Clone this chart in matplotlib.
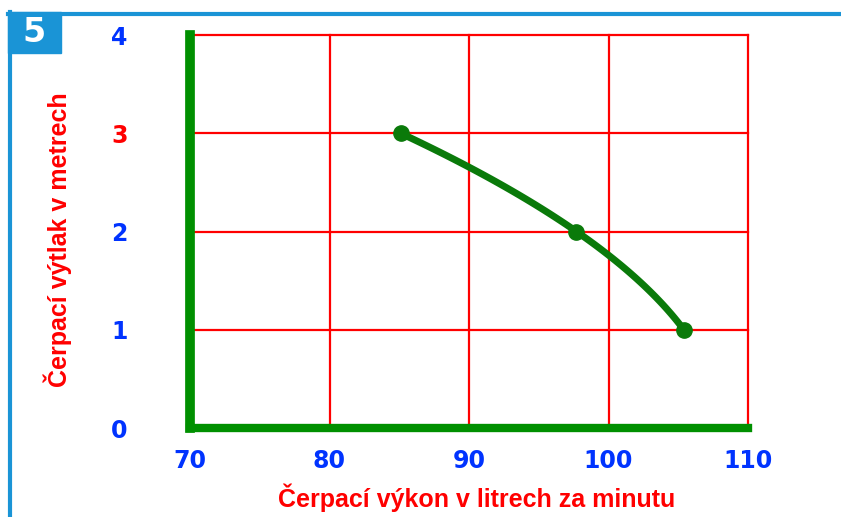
import numpy as np
import matplotlib.pyplot as plt
from matplotlib.patches import Rectangle
from matplotlib.lines import Line2D

# data
flow = [85.1, 97.7, 105.4]      # litres per minute
head = [3, 2, 1]                # metres
x_ticks = [70, 80, 90, 100, 110]
y_ticks = [0, 1, 2, 3, 4]
y_colors = ['#0033ff', '#0033ff', '#0033ff', '#ff0000', '#0033ff']

blue = '#1a94d6'
green = '#009000'
curve_green = '#0a7a0a'
red = '#ff0000'

fig = plt.figure(figsize=(8.41, 5.17), dpi=100)
W, H = 841, 517
ax = fig.add_axes([190 / W, 89 / H, (748 - 190) / W, (428 - 35) / H])

ax.set_xlim(70, 110)
ax.set_ylim(0, 4)
ax.set_xticks(x_ticks)
ax.set_yticks(y_ticks)
ax.grid(True, color=red, linewidth=1.6)
for gl in ax.get_xgridlines() + ax.get_ygridlines():
    gl.set_clip_on(False)
ax.set_axisbelow(True)

for s in ['top', 'right']:
    ax.spines[s].set_visible(False)
ax.spines['left'].set_color(green)
ax.spines['left'].set_linewidth(7)
ax.spines['bottom'].set_color(green)
ax.spines['bottom'].set_linewidth(6)
ax.spines['left'].set_zorder(5)
ax.spines['bottom'].set_zorder(5)

ax.tick_params(length=0)
ax.tick_params(axis='x', pad=15)
ax.tick_params(axis='y', pad=45)
tick_font = dict(family='DejaVu Sans', weight='bold', size=17)
ax.set_xticklabels([str(v) for v in x_ticks], color='#0033ff', **tick_font)
ax.set_yticklabels([str(v) for v in y_ticks], **tick_font)
for lab, c in zip(ax.get_yticklabels(), y_colors):
    lab.set_color(c)

# smooth curve through the three measured points
coef = np.polyfit(head, flow, 2)
hh = np.linspace(head[0], head[-1], 100)
ax.plot(np.polyval(coef, hh), hh, color=curve_green, linewidth=5,
        solid_capstyle='round', zorder=6, clip_on=False)
ax.plot(flow, head, 'o', color=curve_green, markersize=11, zorder=7, clip_on=False)

label_font = dict(family='Liberation Sans', weight='bold', color=red, size=18)
ax.set_xlabel('Čerpací výkon v litrech za minutu', **label_font)
ax.set_ylabel('Čerpací výtlak v metrech', **label_font)
ax.xaxis.set_label_coords(0.514, -0.142)
ax.yaxis.set_label_coords(-0.212, 0.478)

# blue frame and number box
fig.add_artist(Line2D([9.5 / W, 9.5 / W], [0, (H - 12) / H], color=blue,
                      linewidth=3, transform=fig.transFigure))
fig.add_artist(Line2D([8 / W, 1], [(H - 13.5) / H, (H - 13.5) / H], color=blue,
                      linewidth=3, transform=fig.transFigure))
fig.add_artist(Rectangle((8 / W, (H - 53) / H), 53 / W, 41 / H, color=blue,
                         transform=fig.transFigure))
fig.text(34 / W, (H - 32) / H, '5', color='white', weight='bold',
         family='DejaVu Sans', size=24, ha='center', va='center')

fig.savefig('out.png', dpi=100)
